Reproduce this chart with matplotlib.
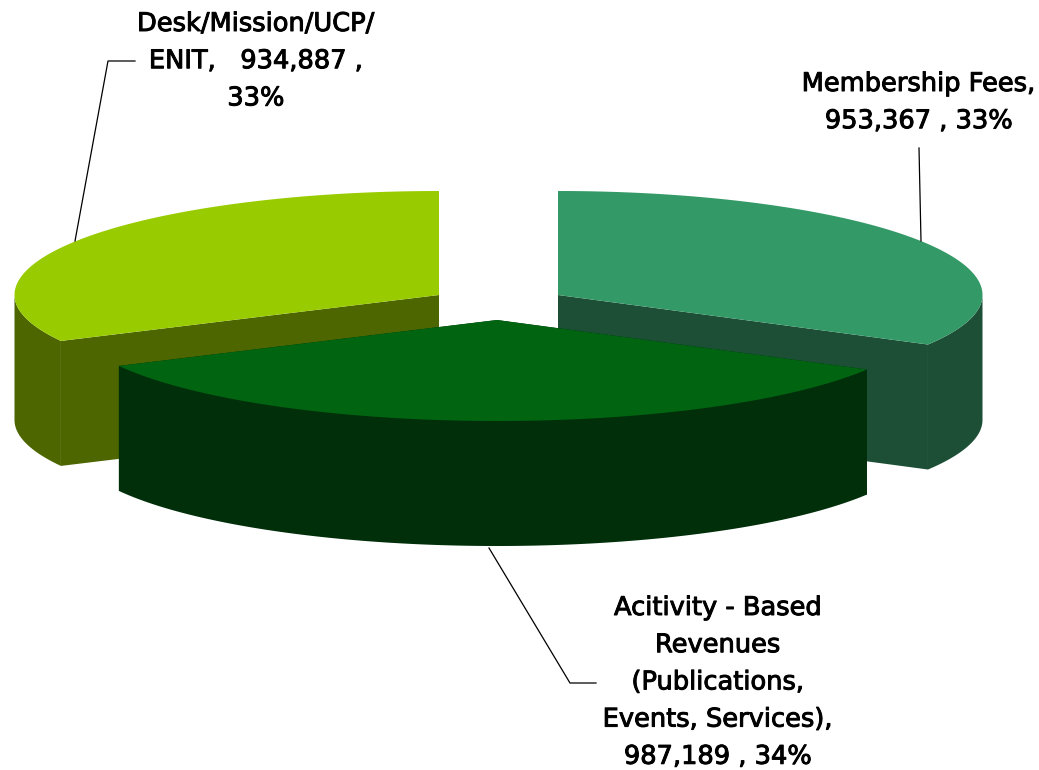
import numpy as np
import matplotlib
matplotlib.use("Agg")
import matplotlib.pyplot as plt
from matplotlib.patches import Polygon
import matplotlib.patheffects as pe

categories = ["Membership Fees", "Acitivity - Based Revenues", "Desk/Mission/UCP/ENIT"]
values = [953367, 987189, 934887]
top_colors = ["#339966", "#006411", "#99CC00"]
side_colors = ["#1C4F36", "#002F0A", "#4D6600"]
label_lines = [
    ["Membership Fees,", "953,367 , 33%"],
    ["Acitivity - Based", "Revenues", "(Publications,", "Events, Services),", "987,189 , 34%"],
    ["Desk/Mission/UCP/", "ENIT,   934,887 ,", "33%"],
]

W, H = 1039, 770
A, B_BACK, B_FRONT, DEPTH = 424.5, 104, 101, 125
apexes = [(558, 295), (497, 320), (439, 295)]
label_pos = [(919, 84), (718, 608), (256, 24)]
leaders = [
    [(919, 148), (921, 241)],
    [(489, 548), (570, 683), (596, 683)],
    [(135, 61), (108, 61), (75, 241)],
]
LINE_PITCH = 37.2

fig = plt.figure(figsize=(W / 100, H / 100), dpi=100, facecolor="white")
ax = fig.add_axes([0, 0, 1, 1])
ax.set_xlim(0, W)
ax.set_ylim(H, 0)
ax.axis("off")

edges = np.concatenate([[0], np.cumsum(values)]) / np.sum(values) * 2 * np.pi


def rim(cx, cy, t0, t1, n=300):
    t = np.linspace(t0, t1, n)
    c = np.cos(t)
    return np.column_stack([cx + A * np.sin(t), cy - np.where(c > 0, B_BACK, B_FRONT) * c])


for i in [0, 2, 1]:
    cx, cy = apexes[i]
    t0, t1 = edges[i], edges[i + 1]
    z = 4 if i == 1 else 2
    arc = rim(cx, cy, t0, t1)
    down = np.array([0, DEPTH])
    # outer wall: only the front half of the rim can be seen
    f0, f1 = max(t0, np.pi / 2), min(t1, 3 * np.pi / 2)
    front = rim(cx, cy, f0, f1)
    wall = np.vstack([front, (front + down)[::-1]])
    ax.add_patch(Polygon(wall, closed=True, fc=side_colors[i], ec="none", zorder=z))
    # cut faces
    for p in (arc[0], arc[-1]):
        quad = [(cx, cy), tuple(p), tuple(p + down), (cx, cy + DEPTH)]
        ax.add_patch(Polygon(quad, closed=True, fc=side_colors[i], ec="none", zorder=z))
    # top face
    top = np.vstack([[(cx, cy)], arc])
    ax.add_patch(Polygon(top, closed=True, fc=top_colors[i], ec="none", zorder=z + 1))

for pts in leaders:
    xs, ys = zip(*pts)
    ax.plot(xs, ys, color="black", lw=0.9, zorder=6, solid_joinstyle="miter")

for lines, (x, y) in zip(label_lines, label_pos):
    for k, s in enumerate(lines):
        ax.text(x, y + k * LINE_PITCH, s, ha="center", va="center", fontsize=18.5,
                family="DejaVu Sans", color="black", zorder=7,
                path_effects=[pe.withStroke(linewidth=0.7, foreground="black")])

fig.savefig("out.png", dpi=100, facecolor="white")
